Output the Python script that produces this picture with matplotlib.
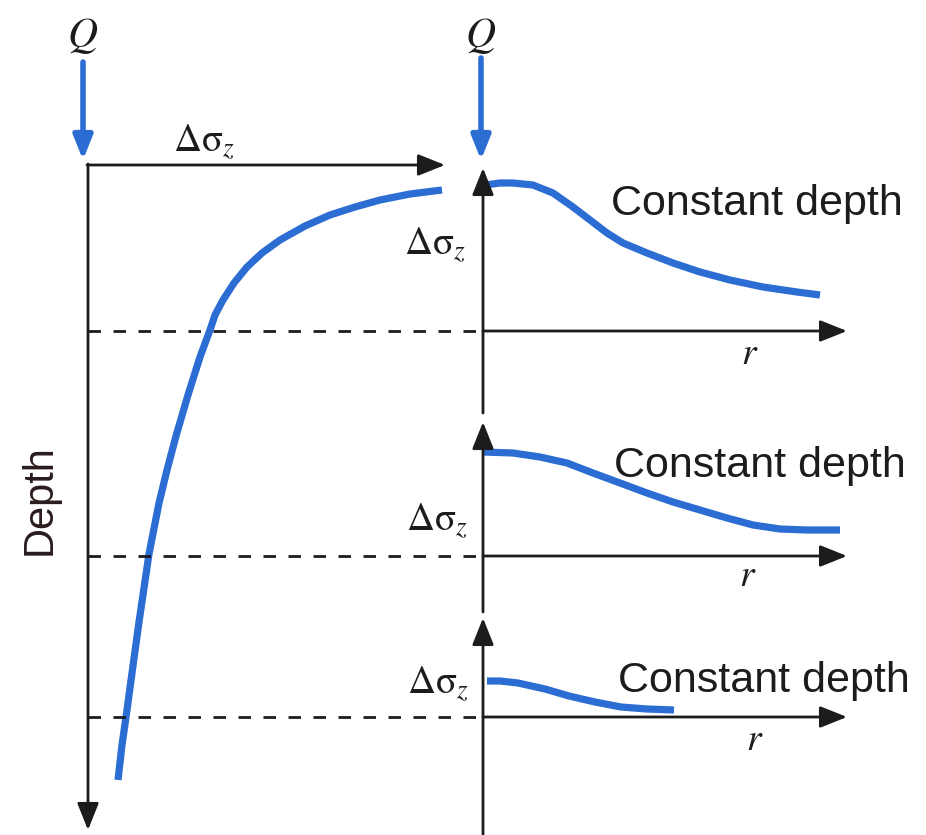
import matplotlib
matplotlib.use("Agg")
import matplotlib.pyplot as plt

plt.rcParams['mathtext.fontset'] = 'stix'

# ---- data (pixel-space diagram coordinates, y grows downward) ----
# Left curve: stress increment vs depth below the point load
depth_curve_x = [442, 410, 380, 355, 330, 305, 280, 262, 247, 234, 223, 215, 210, 200, 188, 176, 167, 159, 149, 139, 132, 127, 122, 118]
depth_curve_y = [190, 194, 200, 207, 215, 226, 240, 253, 267, 283, 300, 315, 330, 357, 395, 436, 470, 503, 554, 622, 673, 710, 745, 780]

# Right panels: stress vs radial distance at constant depth
p1_x = [485, 500, 513, 533, 553, 573, 590, 607, 623, 647, 673, 700, 730, 763, 797, 820]
p1_y = [185, 183, 183, 185, 193, 207, 220, 233, 243, 253, 263, 272, 280, 287, 292, 295]
p2_x = [483, 513, 540, 567, 593, 620, 647, 673, 700, 727, 753, 780, 807, 840]
p2_y = [452, 453, 457, 463, 473, 483, 493, 502, 510, 518, 525, 529, 530, 530]
p3_x = [487, 500, 518, 545, 569, 595, 621, 647, 674]
p3_y = [681, 681, 683, 689, 696, 702, 707, 709, 710]

baselines = [331, 556, 717]          # depth levels (dashed lines / r axes)
panel_tops = [168, 422, 618]         # Δσz axis arrow tips
label_const = "Constant depth"
label_depth = "Depth"
DSIG = r'$\Delta\mathrm{\sigma}_z$'

BLUE = '#2c6dd4'
INK = '#1c1c1c'

fig = plt.figure(figsize=(9.26, 8.35), dpi=100)
ax = fig.add_axes([0, 0, 1, 1])
ax.set_xlim(0, 926)
ax.set_ylim(835, 0)
ax.axis('off')

def arrow(x0, y0, x1, y1, color=INK, lw=2.0, ms=30):
    ax.annotate('', xy=(x1, y1), xytext=(x0, y0),
                arrowprops=dict(arrowstyle='-|>,head_length=0.55,head_width=0.22',
                                color=color, lw=lw, mutation_scale=ms,
                                shrinkA=0, shrinkB=0))

# Left depth axis and top Δσz axis
arrow(88, 164, 88, 830)
arrow(87, 165, 445, 165)

# Point-load arrows
arrow(83, 62, 83, 160, color=BLUE, lw=4, ms=26)
arrow(481, 58, 481, 160, color=BLUE, lw=4, ms=26)
ax.text(83, 35, r'$Q$', fontsize=30, ha='center', va='center', color=INK)
ax.text(481, 35, r'$Q$', fontsize=30, ha='center', va='center', color=INK)
ax.text(204, 142, DSIG, fontsize=28, ha='center', va='center', color=INK)

# Left curve
ax.plot(depth_curve_x, depth_curve_y, color=BLUE, lw=5.2,
        solid_capstyle='butt', solid_joinstyle='round')

# Depth label
ax.text(40, 500, label_depth, rotation=90, fontsize=30, family='Liberation Sans',
        ha='center', va='center', color='#2a1c1c')

# Right vertical axis (segmented, with arrowheads at each panel)
arrow(483, 835, 483, panel_tops[2])
arrow(483, panel_tops[2] - 6, 483, panel_tops[1])
arrow(483, panel_tops[1] - 9, 483, panel_tops[0])

# Dashed depth lines and r axes
for yb in baselines:
    ax.plot([88, 483], [yb, yb], color=INK, lw=2, linestyle=(0, (4.5, 4.5)))
    arrow(483, yb, 847, yb)

# Panel curves
for xs, ys in [(p1_x, p1_y), (p2_x, p2_y), (p3_x, p3_y)]:
    ax.plot(xs, ys, color=BLUE, lw=5.2, solid_capstyle='butt', solid_joinstyle='round')

# Panel labels
const_pos = [(611, 215), (614, 477), (618, 692)]
dsig_pos = [(435, 245), (437, 521), (438, 684)]
r_pos = [(750, 354), (748, 576), (755, 740)]
for (cx, cy), (dx, dy), (rx, ry) in zip(const_pos, dsig_pos, r_pos):
    ax.text(cx, cy, label_const, fontsize=31, family='Liberation Sans',
            ha='left', va='baseline', color=INK)
    ax.text(dx, dy, DSIG, fontsize=28, ha='center', va='center', color=INK)
    ax.text(rx, ry, r'$r$', fontsize=27, ha='center', va='center', color=INK)

fig.savefig('out.png', dpi=100, facecolor='white')
